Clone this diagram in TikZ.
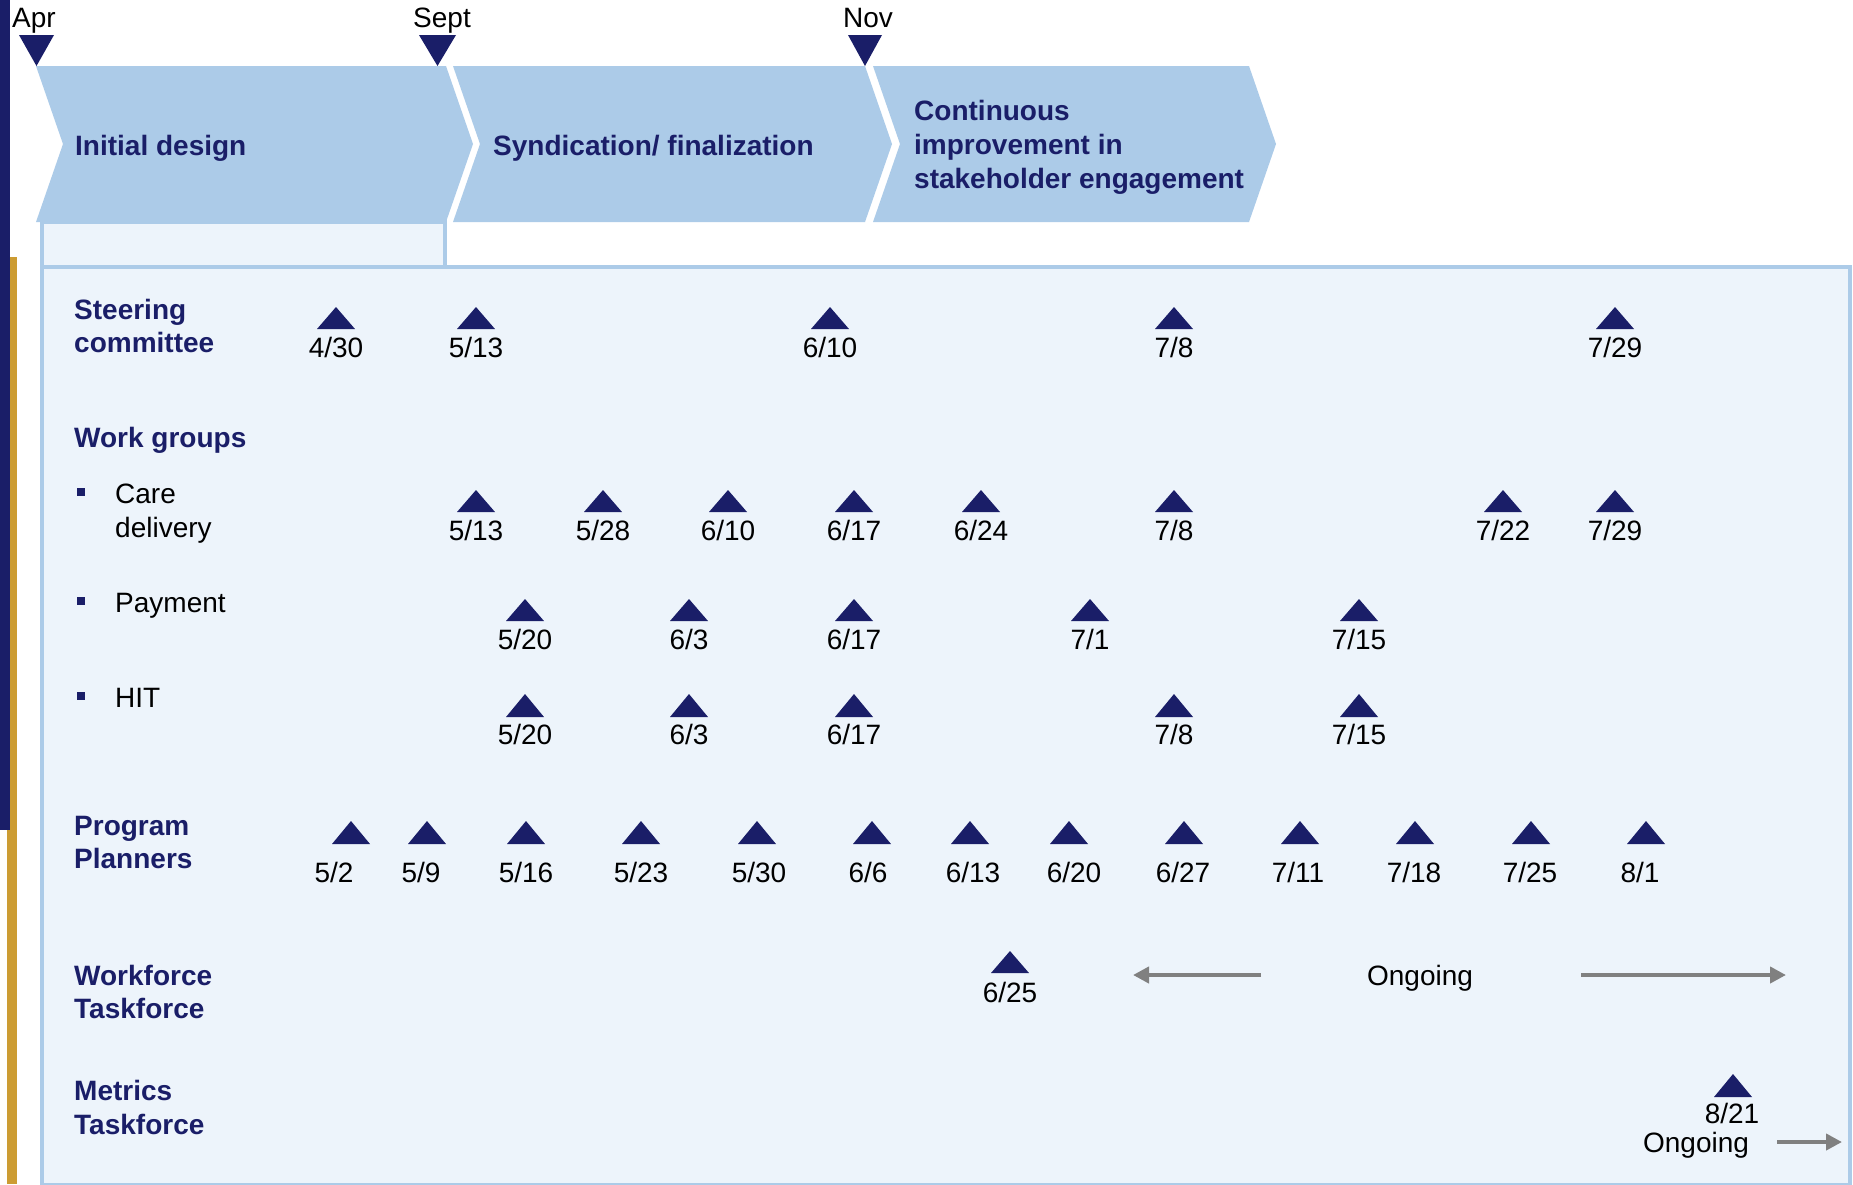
\documentclass[tikz,border=0pt]{standalone}
\usepackage{fontspec}
\setmainfont{Liberation Sans}
\usetikzlibrary{arrows.meta}

\definecolor{navy}{RGB}{26,30,104}
\definecolor{phase}{RGB}{172,203,232}
\definecolor{panel}{RGB}{237,244,251}
\definecolor{gold}{RGB}{204,156,51}
\definecolor{ongoing}{RGB}{128,128,128}

\tikzset{
  big/.style={inner sep=0pt,font=\fontsize{28}{33}\selectfont},
  head/.style={big,anchor=base west,text=navy,font=\bfseries\fontsize{28}{33}\selectfont},
  item/.style={big,anchor=base west},
  date/.style={big,anchor=base},
  milestone/.style={fill=navy},
  ongoing arrow/.style={draw=ongoing,line width=4,-{Triangle[length=16pt,width=16pt]}}
}

\begin{document}
\begin{tikzpicture}[x=1pt,y=-1pt]
   \fill[white] (0,0) rectangle (1853,1184);
   \useasboundingbox (0,0) rectangle (1853,1184);
   % side bars
   \fill[gold] (7,257) rectangle (17,1184);
   \fill[navy] (0,0) rectangle (10,830);
   % panels
   \draw[phase,line width=4,fill=panel] (41.5,267) rectangle (1850,1185);
   \draw[phase,line width=4,fill=panel] (41.5,222) rectangle (445,267);
   % phases
   \fill[phase] (36,66) -- (446,66) -- (473,144) -- (446,222) -- (36,222) -- (63,144) -- cycle;
   \fill[phase] (453,66) -- (865,66) -- (892,144) -- (865,222) -- (453,222) -- (480,144) -- cycle;
   \fill[phase] (873,66) -- (1249,66) -- (1276,144) -- (1249,222) -- (873,222) -- (900,144) -- cycle;
   \node[head] (ph1) at (75,155) {Initial design};
   \node[head] (ph2) at (493,155) {Syndication/ finalization};
   \node[head] (ph3a) at (914,120) {Continuous};
   \node[head] (ph3b) at (914,154) {improvement in};
   \node[head] (ph3c) at (914,188) {stakeholder engagement};
   % months
   \fill[navy] (19,35) -- (54,35) -- (36.5,66) -- cycle;
   \fill[navy] (419,35) -- (456,35) -- (437.5,66) -- cycle;
   \fill[navy] (848,35) -- (882,35) -- (865,66) -- cycle;
   \node[date] (apr) at (34,27) {Apr};
   \node[date] (sept) at (442,27) {Sept};
   \node[date] (nov) at (868,27) {Nov};
   % row titles
   \node[head] (steer1) at (74,319) {Steering};
   \node[head] (steer2) at (74,352) {committee};
   \node[head] (work) at (74,447) {Work groups};
   \fill[navy] (77,488) rectangle (85,496);
   \node[item] (care1) at (115,503) {Care};
   \node[item] (care2) at (115,537) {delivery};
   \fill[navy] (77,597) rectangle (85,605);
   \node[item] (pay) at (115,612) {Payment};
   \fill[navy] (77,692) rectangle (85,700);
   \node[item] (hit) at (115,707) {HIT};
   \node[head] (plan1) at (74,835) {Program};
   \node[head] (plan2) at (74,868) {Planners};
   \node[head] (wf1) at (74,985) {Workforce};
   \node[head] (wf2) at (74,1018) {Taskforce};
   \node[head] (met1) at (74,1100) {Metrics};
   \node[head] (met2) at (74,1134) {Taskforce};
   % steering committee
   \foreach \x/\mo/\dy [count=\i] in {336/4/30,476/5/13,830/6/10,1174/7/8,1615/7/29}{
      \fill[milestone] (\x-19,329) -- (\x+19,329) -- (\x,307) -- cycle;
      \node[date] (sc\i) at (\x,357) {\mo/\dy};
   }
   % care delivery
   \foreach \x/\mo/\dy [count=\i] in {476/5/13,603/5/28,728/6/10,854/6/17,981/6/24,1174/7/8,1503/7/22,1615/7/29}{
      \fill[milestone] (\x-19,512) -- (\x+19,512) -- (\x,490) -- cycle;
      \node[date] (cd\i) at (\x,540) {\mo/\dy};
   }
   % payment
   \foreach \x/\mo/\dy [count=\i] in {525/5/20,689/6/3,854/6/17,1090/7/1,1359/7/15}{
      \fill[milestone] (\x-19,621) -- (\x+19,621) -- (\x,599) -- cycle;
      \node[date] (pm\i) at (\x,649) {\mo/\dy};
   }
   % HIT
   \foreach \x/\mo/\dy [count=\i] in {525/5/20,689/6/3,854/6/17,1174/7/8,1359/7/15}{
      \fill[milestone] (\x-19,717) -- (\x+19,717) -- (\x,694) -- cycle;
      \node[date] (ht\i) at (\x,744) {\mo/\dy};
   }
   % program planners
   \foreach \x/\lx/\mo/\dy [count=\i] in {351/334/5/2,427/421/5/9,526/526/5/16,641/641/5/23,
         757/759/5/30,872/868/6/6,970/973/6/13,1069/1074/6/20,1184/1183/6/27,
         1300/1298/7/11,1415/1414/7/18,1531/1530/7/25,1646/1640/8/1}{
      \fill[milestone] (\x-19,844) -- (\x+19,844) -- (\x,821) -- cycle;
      \node[date] (pp\i) at (\lx,882) {\mo/\dy};
   }
   % workforce taskforce
   \fill[milestone] (991,973) -- (1029,973) -- (1010,951) -- cycle;
   \node[date] (wf) at (1010,1002) {6/25};
   \node[date] (wfgo) at (1420,985) {Ongoing};
   \coordinate (wfl0) at (1261,975);
   \coordinate (wfl1) at (1133,975);
   \coordinate (wfr0) at (1581,975);
   \coordinate (wfr1) at (1786,975);
   \draw[ongoing arrow] (wfl0) -- (wfl1);
   \draw[ongoing arrow] (wfr0) -- (wfr1);
   % metrics taskforce
   \fill[milestone] (1714,1097) -- (1752,1097) -- (1733,1074) -- cycle;
   \node[date] (mt) at (1732,1123) {8/21};
   \node[date] (mtgo) at (1696,1152) {Ongoing};
   \coordinate (mt0) at (1777,1142);
   \coordinate (mt1) at (1842,1142);
   \draw[ongoing arrow] (mt0) -- (mt1);
\end{tikzpicture}
\end{document}
